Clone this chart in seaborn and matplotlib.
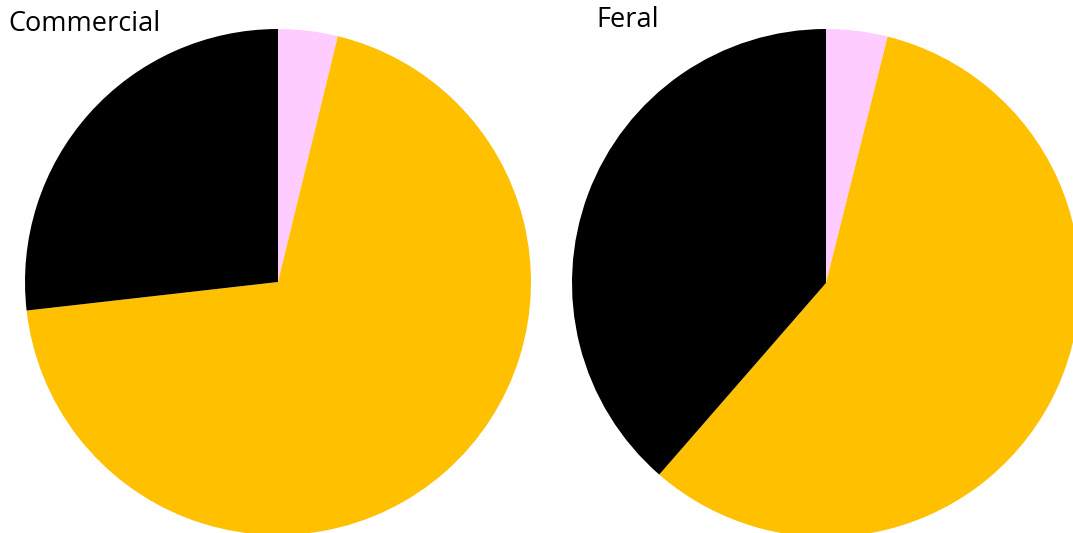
import matplotlib
matplotlib.use("Agg")
import matplotlib.pyplot as plt
import seaborn as sns

sns.set_theme(style="white")
plt.rcParams['font.family'] = ['Open Sans', 'DejaVu Sans']

# shares per group: pink, yellow, black (clockwise from top)
segments = ["Other", "Yellow", "Black"]
commercial = [3.8, 69.4, 26.8]
feral = [3.9, 57.5, 38.6]
titles = ["Commercial", "Feral"]
colors = ["#FFCCFF", "#FFC000", "#000000"]

W, H = 1073, 533
fig = plt.figure(figsize=(W / 100, H / 100), dpi=100)

# pie centres and radius in pixels
panels = [(commercial, 278, 282, 253, (8, 24)), (feral, 826, 283, 254, (596, 20))]

for (vals, cx, cy, r, tpos), title in zip(panels, titles):
    ax = fig.add_axes([(cx - r) / W, (H - cy - r) / H, 2 * r / W, 2 * r / H])
    ax.pie(vals, colors=colors, startangle=90, counterclock=False,
           wedgeprops=dict(linewidth=0))
    ax.set_xlim(-1, 1)
    ax.set_ylim(-1, 1)
    ax.set_aspect("auto")
    ax.axis("off")
    fig.text(tpos[0] / W, 1 - tpos[1] / H, title, fontsize=19.5, color="black",
             va="center", ha="left")

fig.savefig("out.png", dpi=100)
